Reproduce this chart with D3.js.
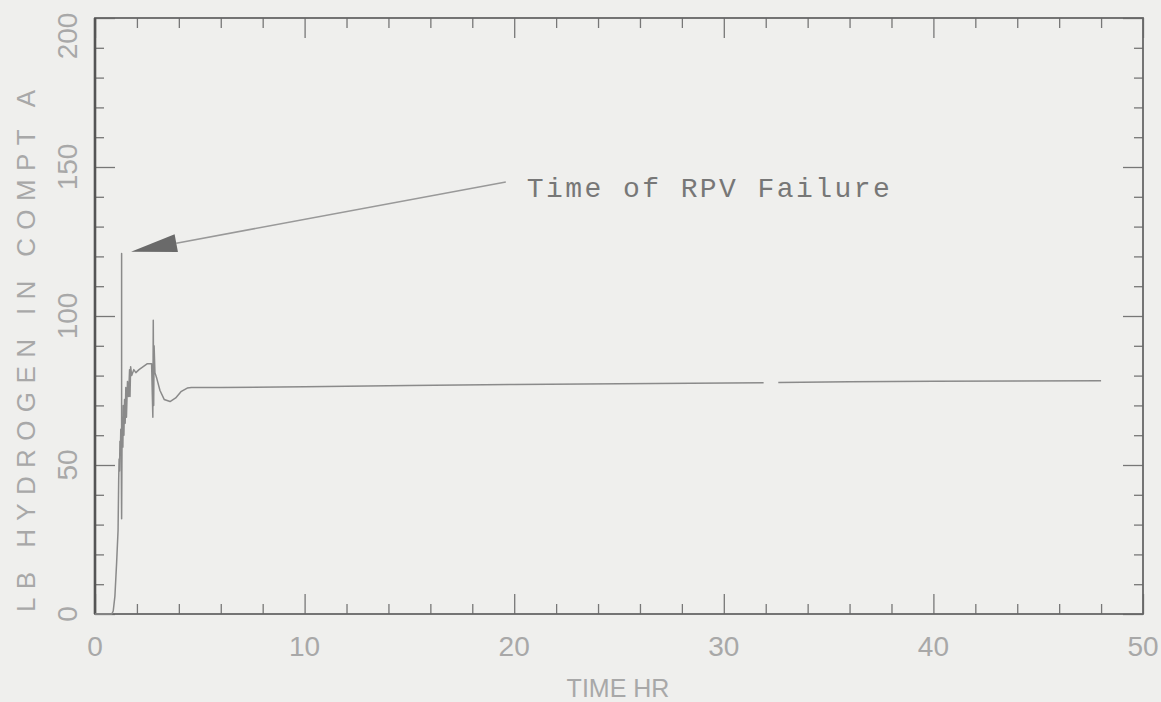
<!DOCTYPE html>
<html>
<head>
<meta charset="utf-8">
<script src="https://cdn.jsdelivr.net/npm/d3@7"></script>
<style>
  html, body { margin: 0; padding: 0; background: #efefed; }
  svg { display: block; }
</style>
</head>
<body>
<svg id="chart" width="1161" height="702"></svg>
<script>
// ---- data ----
const timeHr = [0, 0.8, 0.87, 0.95, 1.03, 1.1, 1.13, 1.15, 1.17, 1.19, 1.21, 1.23, 1.25, 1.27, 1.27, 1.27,
  1.29, 1.31, 1.33, 1.35, 1.38, 1.41, 1.44, 1.47, 1.5, 1.55, 1.6, 1.65, 1.67, 1.7, 1.75, 1.85, 1.95, 2.1,
  2.3, 2.5, 2.7, 2.76, 2.78, 2.8, 2.82, 2.86, 2.95, 3.1, 3.3, 3.58, 3.85, 4.1, 4.4, 4.6, 6, 10, 15, 20, 25,
  31.9, 31.95, 32.6, 36, 40, 44, 48];
const h2Lb = [0, 0, 1, 6, 17, 28, 45, 52, 48, 58, 54, 62, 56, 32, 121, 32,
  58, 66, 56, 70, 60, 72, 64, 76, 66, 78, 73, 82, 73, 83, 80, 82, 81, 82,
  83, 84, 84, 66, 98.6, 70, 90, 81, 79, 75, 72, 71.3, 72.5, 74.6, 75.8, 76, 76, 76.3, 76.7, 77, 77.3,
  77.6, null, 77.7, 77.9, 78.1, 78.2, 78.3];
const xTickLabels = [0, 10, 20, 30, 40, 50];
const yTickLabels = [0, 50, 100, 150, 200];
const xTitle = "TIME HR";
const yTitle = "LB HYDROGEN IN COMPT A";
const noteText = "Time of RPV Failure";
const noteTip = [1.72, 121.6];   // arrow tip (hr, lb)
const noteTail = [19.6, 145];    // arrow tail (hr, lb)
const noteAt = [20.6, 140];      // text anchor (hr, lb)

// ---- layout ----
const W = 1161, H = 702;
const L = 95, R = 1143, T = 18, B = 614;
const svg = d3.select("#chart");
svg.append("rect").attr("width", W).attr("height", H).attr("fill", "#efefed");

const x = d3.scaleLinear().domain([0, 50]).range([L, R]);
const y = d3.scaleLinear().domain([0, 200]).range([B, T]);

const tickCol = "#777";
const labCol = "#a8a8a8";
const fontLab = "'Liberation Sans Narrow', 'Liberation Sans', Arial, sans-serif";

function styleAxis(g) {
  g.select(".domain").remove();
  g.selectAll("line").attr("stroke", tickCol).attr("stroke-width", 1.3);
  g.selectAll("text").remove();
}
const minorX = d3.range(0, 51, 2).filter(v => v % 10 !== 0);
const minorY = d3.range(0, 201, 10).filter(v => v % 50 !== 0);

// bottom
svg.append("g").attr("transform", `translate(0,${B})`)
  .call(d3.axisBottom(x).tickValues(xTickLabels).tickSize(-20)).call(styleAxis);
svg.append("g").attr("transform", `translate(0,${B})`)
  .call(d3.axisBottom(x).tickValues(minorX).tickSize(-10)).call(styleAxis);
// top
svg.append("g").attr("transform", `translate(0,${T})`)
  .call(d3.axisTop(x).tickValues(xTickLabels).tickSize(-20)).call(styleAxis);
svg.append("g").attr("transform", `translate(0,${T})`)
  .call(d3.axisTop(x).tickValues(minorX).tickSize(-10)).call(styleAxis);
// left
svg.append("g").attr("transform", `translate(${L},0)`)
  .call(d3.axisLeft(y).tickValues(yTickLabels).tickSize(-20)).call(styleAxis);
svg.append("g").attr("transform", `translate(${L},0)`)
  .call(d3.axisLeft(y).tickValues(minorY).tickSize(-9)).call(styleAxis);
// right
svg.append("g").attr("transform", `translate(${R},0)`)
  .call(d3.axisRight(y).tickValues(yTickLabels).tickSize(-20)).call(styleAxis);
svg.append("g").attr("transform", `translate(${R},0)`)
  .call(d3.axisRight(y).tickValues(minorY).tickSize(-9)).call(styleAxis);

// frame
svg.append("rect").attr("x", L).attr("y", T).attr("width", R - L).attr("height", B - T)
  .attr("fill", "none").attr("stroke", "#666").attr("stroke-width", 1.8);
svg.append("line").attr("x1", L).attr("x2", L).attr("y1", T).attr("y2", B)
  .attr("stroke", "#555").attr("stroke-width", 2.6);

// tick labels
svg.append("g").selectAll("text").data(xTickLabels).join("text")
  .attr("x", d => x(d)).attr("y", 656)
  .attr("text-anchor", "middle")
  .attr("font-family", fontLab).attr("font-size", 28).attr("fill", labCol)
  .text(d => d);
svg.append("g").selectAll("text").data(yTickLabels).join("text")
  .attr("transform", d => `translate(77,${Math.max(y(d), 36)}) rotate(-90)`)
  .attr("text-anchor", "middle")
  .attr("font-family", fontLab).attr("font-size", 28).attr("fill", labCol)
  .text(d => d);

// axis titles
svg.append("text").attr("x", 618).attr("y", 697).attr("text-anchor", "middle")
  .attr("font-family", fontLab).attr("font-size", 25).attr("fill", labCol)
  .text(xTitle);
svg.append("text").attr("transform", `translate(35,${(90 + 612) / 2}) rotate(-90)`)
  .attr("text-anchor", "middle")
  .attr("font-family", "'Liberation Sans', Arial, sans-serif").attr("font-size", 26).attr("fill", labCol)
  .attr("textLength", 522).attr("lengthAdjust", "spacing")
  .text(yTitle);

// curve
const pts = timeHr.map((t, i) => [t, h2Lb[i]]);
const line = d3.line().defined(d => d[1] !== null).x(d => x(d[0])).y(d => y(d[1]));
svg.append("path").datum(pts).attr("d", line)
  .attr("fill", "none").attr("stroke", "#8a8a8a").attr("stroke-width", 1.5)
  .attr("stroke-linejoin", "round");

// annotation
const tip = [x(noteTip[0]), y(noteTip[1])];
const tail = [x(noteTail[0]), y(noteTail[1])];
const ang = Math.atan2(tail[1] - tip[1], tail[0] - tip[0]);
const hl = 46, hw = 9;
const bx = tip[0] + hl * Math.cos(ang), by = tip[1] + hl * Math.sin(ang);
svg.append("line").attr("x1", bx).attr("y1", by).attr("x2", tail[0]).attr("y2", tail[1])
  .attr("stroke", "#999").attr("stroke-width", 1.5);
svg.append("polygon")
  .attr("points", [tip,
    [bx + hw * Math.sin(ang), by - hw * Math.cos(ang)],
    [bx - hw * Math.sin(ang), by + hw * Math.cos(ang)]].map(p => p.join(",")).join(" "))
  .attr("fill", "#6a6a6a");
svg.append("text").attr("x", x(noteAt[0])).attr("y", y(noteAt[1]))
  .attr("font-family", "'Liberation Mono', 'Courier New', monospace").attr("font-size", 28)
  .attr("fill", "#777").attr("textLength", 363).attr("lengthAdjust", "spacing")
  .text(noteText);
</script>
</body>
</html>
